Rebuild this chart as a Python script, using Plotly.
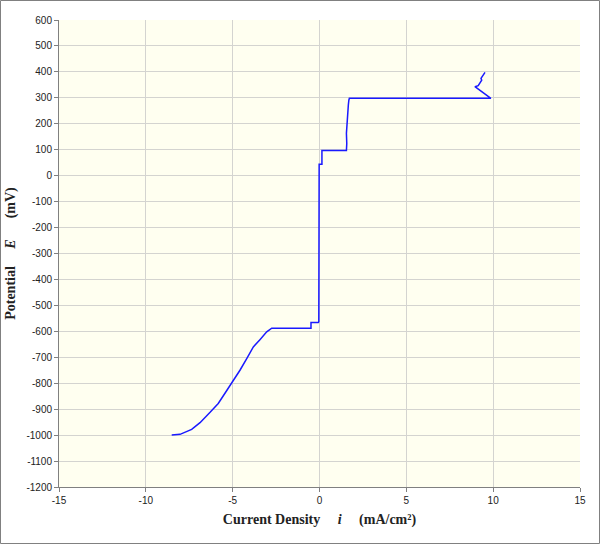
import plotly.graph_objects as go

# Polarization curve
current = [-8.51, -8.03, -7.36, -6.88, -6.30, -5.83, -5.34, -5.02, -4.58, -4.19,
           -3.81, -3.43, -3.04, -2.75, -0.49, -0.49, -0.07, -0.04, -0.02, 0.14,
           0.14, 1.55, 1.57, 1.55, 1.58, 1.60, 1.62, 1.66, 1.69, 1.72,
           9.87, 8.95, 9.14, 9.24, 9.34, 9.30, 9.43, 9.53]
potential = [-1000, -997, -978, -952, -912, -878, -828, -796, -750, -705,
             -660, -632, -602, -588, -588, -566, -566, -563, 44, 44,
             97, 97, 124, 163, 202, 234, 246, 272, 291, 298,
             298, 343, 347, 356, 368, 375, 388, 398]

x_ticks = [-15, -10, -5, 0, 5, 10, 15]
y_ticks = list(range(-1200, 601, 100))

fig = go.Figure()
fig.add_trace(go.Scatter(
    x=current, y=potential, mode='lines',
    line=dict(color='#1a1aff', width=1.5),
    showlegend=False
))

axis_font = dict(family='Liberation Sans, Arial', size=10, color='#222222')
title_font = dict(family='Liberation Serif, Times New Roman', size=14, color='#222222')

fig.update_layout(
    width=600, height=544,
    margin=dict(l=59, r=20, t=20, b=57, autoexpand=False),
    paper_bgcolor='white',
    plot_bgcolor='#fffff0',
    xaxis=dict(
        range=[-15, 15], tickvals=x_ticks, ticktext=[str(v) for v in x_ticks],
        ticks='outside', ticklen=4, automargin=False,
        tickcolor='#808080', showline=True, linecolor='#808080', linewidth=1,
        gridcolor='#d4d4d0', gridwidth=1, zeroline=False, tickfont=axis_font,
        title=dict(text='<b>Current Density     <i>i</i>     (mA/cm²)</b>',
                   font=title_font, standoff=9)
    ),
    yaxis=dict(
        range=[-1200, 600], tickvals=y_ticks, ticktext=[str(v) for v in y_ticks],
        ticks='outside', ticklen=4, automargin=False,
        tickcolor='#808080', showline=True, linecolor='#808080', linewidth=1,
        gridcolor='#d4d4d0', gridwidth=1, zeroline=False, tickfont=axis_font,
        title=dict(text='<b>Potential     <i>E</i>      (mV)</b>',
                   font=title_font, standoff=7)
    ),
    shapes=[dict(
        type='rect', xref='paper', yref='paper',
        x0=-58.5 / 521, x1=540.5 / 521, y0=-56.5 / 467, y1=486.5 / 467,
        line=dict(color='#808080', width=1), layer='below'
    )]
)

# drop the browser's default body margin so the figure sits at the window edge
fig.write_html("out.html", config={'displayModeBar': False},
               post_script="document.body.style.margin='0';")
